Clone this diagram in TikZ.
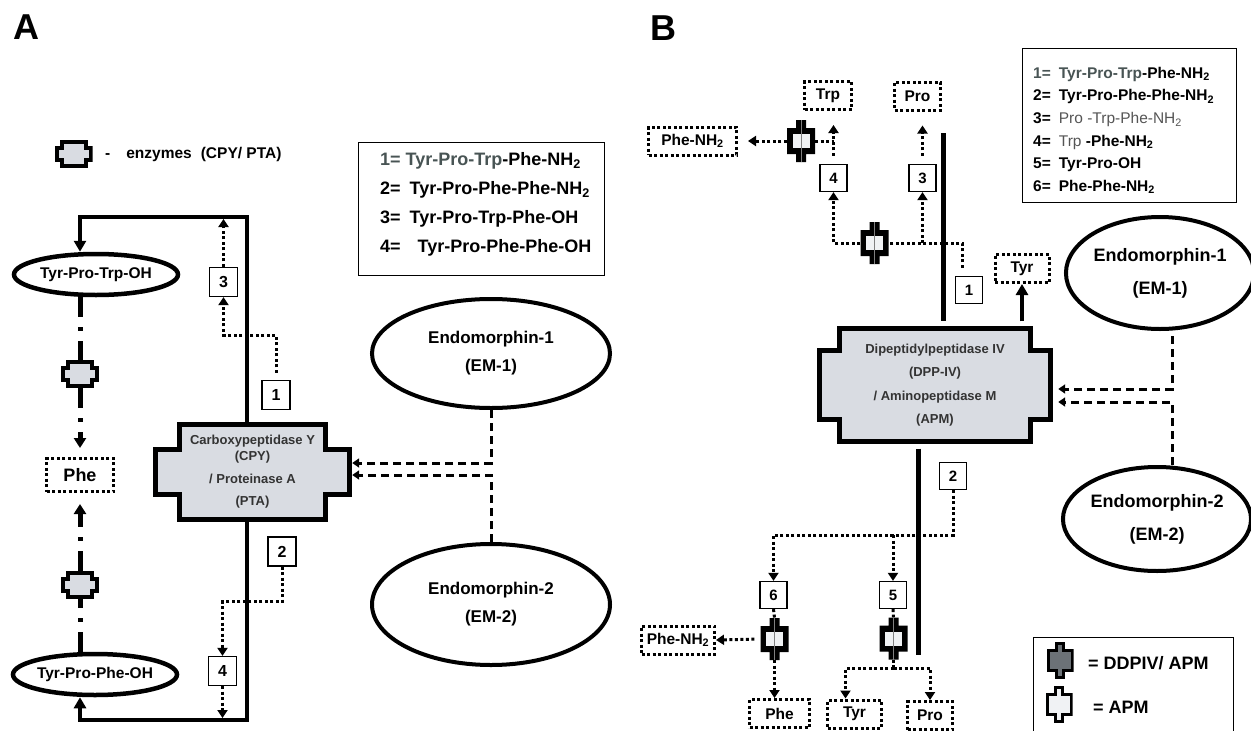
\documentclass[tikz,border=0pt]{standalone}
\usepackage{fontspec}
\setmainfont{Liberation Sans}
\usetikzlibrary{positioning, shapes.geometric, arrows.meta, calc, backgrounds}

\definecolor{enzfill}{RGB}{217,220,226}
\definecolor{apmfill}{RGB}{240,242,244}
\definecolor{ddpfill}{RGB}{108,114,119}
\definecolor{labgray}{RGB}{72,84,84}
\definecolor{midgray}{RGB}{85,85,85}
\definecolor{txtgray}{RGB}{51,51,51}

% cross-shaped enzyme outline round a node: node, wing inset, wing top/bottom inset
\newcommand\enzcross[3]{%
	\filldraw[fill=enzfill, line width=5pt]
		($(#1.north west)+(#2+2.5,2.5)$) -- ($(#1.north east)+(-#2-2.5,2.5)$)
		-- ($(#1.north east)+(-#2-2.5,#3+2.5)$) -- ($(#1.north east)+(-2.5,#3+2.5)$)
		-- ($(#1.south east)+(-2.5,-#3-2.5)$) -- ($(#1.south east)+(-#2-2.5,-#3-2.5)$)
		-- ($(#1.south east)+(-#2-2.5,-2.5)$) -- ($(#1.south west)+(#2+2.5,-2.5)$)
		-- ($(#1.south west)+(#2+2.5,-#3-2.5)$) -- ($(#1.south west)+(2.5,-#3-2.5)$)
		-- ($(#1.north west)+(2.5,#3+2.5)$) -- ($(#1.north west)+(#2+2.5,#3+2.5)$) -- cycle;}

\begin{document}
\begin{tikzpicture}[x=1pt, y=-1pt,
	lbl/.style={inner sep=0pt, font=\bfseries\fontsize{36}{40}\selectfont},
	pept/.style={ellipse, draw, line width=4.5pt, minimum width=164pt, minimum height=41pt, inner sep=0pt, font=\bfseries\fontsize{15.5}{18}\selectfont},
	endoA/.style={ellipse, draw, line width=4pt, minimum width=238pt, minimum height=109pt, inner sep=0pt, align=center, font=\bfseries\fontsize{17}{20}\selectfont},
	endoB/.style={ellipse, draw, line width=4pt, inner sep=0pt, align=center, font=\bfseries\fontsize{18}{21}\selectfont},
	numA/.style={draw, line width=1.2pt, fill=white, minimum width=28pt, minimum height=29pt, inner sep=0pt, font=\bfseries\fontsize{16}{18}\selectfont},
	numB/.style={numA, minimum width=27pt, minimum height=27pt, font=\bfseries\fontsize{15}{18}\selectfont},
	dotln/.style={line width=3pt, dash pattern=on 3pt off 2.5pt},
	dashln/.style={line width=3pt, dash pattern=on 8pt off 5pt},
	dashdot/.style={line width=5pt, dash pattern=on 20pt off 10pt on 4pt off 10pt},
	bigln/.style={line width=4pt},
	thickB/.style={line width=5pt},
	aminoA/.style={draw, dotln, minimum width=67pt, minimum height=33pt, inner sep=0pt, font=\bfseries\fontsize{18}{20}\selectfont},
	aminoB/.style={draw, dotln, minimum height=28pt, inner sep=0pt, font=\bfseries\fontsize{15.5}{18}\selectfont},
	keybox/.style={draw, line width=1.3pt, inner sep=0pt},
	keyA/.style={align=left, inner sep=0pt, font=\bfseries\fontsize{18}{29}\selectfont},
	keyB/.style={align=left, inner sep=0pt, font=\bfseries\fontsize{15.5}{22.6}\selectfont},
	keyC/.style={inner sep=0pt, font=\bfseries\fontsize{18}{20}\selectfont},
	note/.style={inner sep=0pt, font=\bfseries\fontsize{15.5}{18}\selectfont},
	tipS/.style={-{Triangle[length=8pt,width=10pt]}},
	tipL/.style={-{Triangle[length=11pt,width=12pt]}},
	tipD/.style={-{Triangle[length=7pt,width=9pt]}},
	tipDD/.style={-{Triangle[length=10pt,width=12pt]}},
	bigenz/.style={inner sep=0pt, align=center, text=txtgray, font=\bfseries\fontsize{13}{16}\selectfont},
	enzA/.style={minimum width=38pt, minimum height=28pt, inner sep=0pt,
		path picture={\filldraw[fill=enzfill, line width=4pt, shift={(path picture bounding box.center)}]
			(-12,-12) -- (12,-12) -- (12,-6) -- (17,-6) -- (17,6) -- (12,6) -- (12,12) -- (-12,12)
			-- (-12,6) -- (-17,6) -- (-17,-6) -- (-12,-6) -- cycle;}},
	apm/.style={minimum width=28pt, minimum height=42pt, inner sep=0pt,
		path picture={\begin{scope}[shift={(path picture bounding box.center)}]
			\fill (-5,-21) -- (5,-21) -- (5,-13) -- (14,-13) -- (14,13) -- (5,13) -- (5,21) -- (-5,21)
				-- (-5,13) -- (-14,13) -- (-14,-13) -- (-5,-13) -- cycle;
			\fill[apmfill] (-8.5,-7) rectangle (8.5,7);
			\draw[gray, line width=0.5pt] (0,-21) -- (0,21);
			\end{scope}}},
	legicon/.style={minimum width=27pt, minimum height=37pt, inner sep=0pt,
		path picture={\filldraw[fill=#1, line width=3pt, shift={(path picture bounding box.center)}]
			(-3.5,-17) -- (3.5,-17) -- (3.5,-10) -- (12,-10) -- (12,10) -- (3.5,10) -- (3.5,17) -- (-3.5,17)
			-- (-3.5,10) -- (-12,10) -- (-12,-10) -- (-3.5,-10) -- cycle;}}
	]
	\useasboundingbox (0,0) rectangle (1251,731);

	% panel A
	\node[lbl] (labA) at (26,27) {A};
	\node[enzA] (legenz) at (73.5,154) {};
	\node[note, anchor=west] (legtxt) at (105,154) {-\hspace{16pt}enzymes\hspace{9pt}(CPY/ PTA)};
	\node[pept] (trpOH) at (96,274.5) {Tyr-Pro-Trp-OH};
	\node[enzA] (enz1) at (80,374) {};
	\node[aminoA] (pheA) at (80,475) {Phe};
	\node[enzA] (enz2) at (80,585) {};
	\node[pept] (pheOH) at (95,674.5) {Tyr-Pro-Phe-OH};
	\node[bigenz, minimum width=199pt, minimum height=100pt] (cpy) at (252.5,472)
		{Carboxypeptidase Y\\(CPY)\\[7pt]/ Proteinase A\\[6pt](PTA)};
	\begin{scope}[on background layer]
		\enzcross{cpy}{24}{25}
	\end{scope}
	\node[numA] (n1A) at (276,395) {1};
	\node[numA] (n2A) at (282,551.5) {2};
	\node[numA] (n3A) at (223.5,282) {3};
	\node[numA] (n4A) at (222.5,671) {4};
	\node[endoA] (em1A) at (491,353.5) {Endomorphin-1\\[8pt](EM-1)};
	\node[endoA, minimum height=121pt] (em2A) at (491,604.5) {Endomorphin-2\\[8pt](EM-2)};
	\node[keybox, minimum width=246pt, minimum height=133pt] (keyA) at (481.5,209) {};
	\node[keyA, anchor=west] (keyAtxt) at (380,204) {%
		{\color{labgray}1= Tyr-Pro-Trp}-Phe-NH\textsubscript{2}\\
		2=\hspace{9pt}Tyr-Pro-Phe-Phe-NH\textsubscript{2}\\
		3=\hspace{9pt}Tyr-Pro-Trp-Phe-OH\\
		4=\hspace{17pt}Tyr-Pro-Phe-Phe-OH};

	\coordinate (topA) at (247,217);
	\coordinate (botA) at (247,720);

	\draw[bigln, tipL] (cpy.north -| topA) -- (topA) -| (enz1 |- trpOH.north);
	\draw[bigln, tipL] (cpy.south -| botA) -- (botA) -| (enz2 |- pheOH.south);

	\draw[dashdot] (enz1 |- trpOH.south) -- (enz1.north);
	\draw[dashdot, tipDD, shorten >=9pt] (enz1.south) -- (pheA.north);
	\draw[dashdot] (enz2 |- pheOH.north) -- (enz2.south);
	\draw[dashdot, tipDD, shorten >=11pt] (enz2.north) -- (pheA.south);

	\draw[dotln, tipS, shorten <=7pt] (n1A.north) |- ($(n3A.south)+(0,38)$) -- (n3A.south);
	\draw[dotln, tipS, shorten >=2pt] (n3A.north) -- (n3A.north |- topA);
	\draw[dotln, tipS] (n2A.south) |- ($(n4A.north)+(0,-54)$) -- (n4A.north);
	\draw[dotln, tipS, shorten >=2pt] (n4A.south) -- (n4A.south |- botA);

	\draw[dashln, tipD] (em1A.south) |- ([yshift=9pt]cpy.east);
	\draw[dashln, tipD] (em2A.north) |- ([yshift=-3pt]cpy.east);

	% panel B
	\node[lbl] (labB) at (663,28) {B};
	\node[keybox, minimum width=214pt, minimum height=154pt] (keyB) at (1129.5,125.5) {};
	\node[keyB, anchor=west] (keyBtxt) at (1033,130.5) {%
		{\color{labgray}1=\hspace{8pt}Tyr-Pro-Trp}-Phe-NH\textsubscript{2}\\
		2=\hspace{8pt}Tyr-Pro-Phe-Phe-NH\textsubscript{2}\\
		3=\hspace{8pt}{\mdseries\color{midgray}Pro -Trp-Phe-NH\textsubscript{2}}\\
		4=\hspace{8pt}{\mdseries\color{midgray}Trp} -Phe-NH\textsubscript{2}\\
		5=\hspace{8pt}Tyr-Pro-OH\\
		6=\hspace{8pt}Phe-Phe-NH\textsubscript{2}};
	\node[aminoB, minimum width=47pt] (trpB) at (828,95.5) {Trp};
	\node[aminoB, minimum width=46pt] (proB) at (917.5,96) {Pro};
	\node[aminoB, minimum width=88pt] (pheNtop) at (692.5,141) {Phe-NH\textsubscript{2}};
	\node[apm] (enzT) at (801,141) {};
	\node[numB] (n4B) at (833.5,178) {4};
	\node[numB] (n3B) at (922.5,178) {3};
	\node[apm] (enzM) at (874.5,243) {};
	\node[numB] (n1B) at (969,290) {1};
	\node[aminoB, minimum width=54pt] (tyrB) at (1022,268.5) {Tyr};
	\node[bigenz, minimum width=236pt, minimum height=117pt, font=\bfseries\fontsize{13}{23.5}\selectfont] (dpp) at (935,385)
		{Dipeptidylpeptidase IV\\(DPP-IV)\\/ Aminopeptidase M\\(APM)};
	\begin{scope}[on background layer]
		\enzcross{dpp}{20.5}{21.5}
	\end{scope}
	\node[endoB, minimum width=176pt, minimum height=112pt] (em1B) at (1160,273) {Endomorphin-1\\[12pt](EM-1)};
	\node[endoB, minimum width=183pt, minimum height=104pt] (em2B) at (1157,519) {Endomorphin-2\\[12pt](EM-2)};
	\node[numB] (n2B) at (953,476) {2};
	\node[numB] (n6B) at (773.5,595) {6};
	\node[numB] (n5B) at (893,595) {5};
	\node[apm] (enz6) at (774.5,639) {};
	\node[apm] (enz5) at (893.5,638.5) {};
	\node[aminoB, minimum width=73pt] (pheNbot) at (678,640) {Phe-NH\textsubscript{2}};
	\node[aminoB, minimum width=60pt] (pheB) at (779.5,713.5) {Phe};
	\node[aminoB, minimum width=54pt] (tyrBb) at (854.5,714) {Tyr};
	\node[aminoB, minimum width=45pt] (proBb) at (930,715.5) {Pro};
	\node[keybox, minimum width=200pt, minimum height=110pt, anchor=north west] (keyB2) at (1033,637) {};
	\node[legicon=ddpfill] (icoD) at (1060,660) {};
	\node[keyC, anchor=west] (icoDtxt) at (1088,663) {= DDPIV/ APM};
	\node[legicon=apmfill] (icoA) at (1059,704) {};
	\node[keyC, anchor=west] (icoAtxt) at (1093,707) {= APM};

	\coordinate (topB) at (943,133);
	\coordinate (botB) at (918,655);
	\coordinate (splitB) at (893,535);
	\coordinate (split5) at (893.5,668);

	\draw[thickB, shorten >=5pt] (topB) -- (topB |- dpp.north);
	\draw[bigln, tipL, shorten <=5pt] (tyrB.south |- dpp.north) -- (tyrB.south);
	\draw[thickB, shorten <=5pt] (botB |- dpp.south) -- (botB);

	\draw[dashln, tipD, shorten <=5pt, shorten >=5pt] ([xshift=12pt]em1B.south) |- ([yshift=-4pt]dpp.east);
	\draw[dashln, tipD, shorten >=5pt] ([xshift=15pt]em2B.north) |- ([yshift=-17pt]dpp.east);

	\draw[dotln, shorten <=8pt] ([xshift=-7pt]n1B.north) |- (enzM.east);
	\draw[dotln, tipS] (enzM.west) -| (n4B.south);
	\draw[dotln, tipS] (n3B.south |- enzM) -- (n3B.south);
	\draw[dotln, tipS, shorten <=8pt, shorten >=14pt] (n4B.north) -- (n4B.north |- trpB.south);
	\draw[dotln, tipS, shorten <=8pt, shorten >=14pt] (n3B.north) -- (n3B.north |- proB.south);
	\draw[dotln] (enzT.east) -- (enzT -| n4B);
	\draw[dotln, tipS, shorten >=10pt] (enzT.west) -- (pheNtop.east);
	\draw[dotln, tipS] (n2B.south) |- (splitB) -| (n6B.north);
	\draw[dotln, tipS] (splitB) -- (n5B.north);
	\draw[dotln] (n6B.south) -- (enz6.north);
	\draw[dotln] (n5B.south) -- (enz5.north);
	\draw[dotln, tipS, shorten <=6pt] (enz6.west) -- (pheNbot.east);
	\draw[dotln, tipS] (enz6.south) -- (enz6.south |- pheB.north);
	\draw[dotln] (enz5.south) -- (split5);
	\draw[dotln, tipS] (split5) -| ([xshift=-9pt]tyrBb.north);
	\draw[dotln, tipS] (split5) -| (proBb.north);
\end{tikzpicture}
\end{document}
